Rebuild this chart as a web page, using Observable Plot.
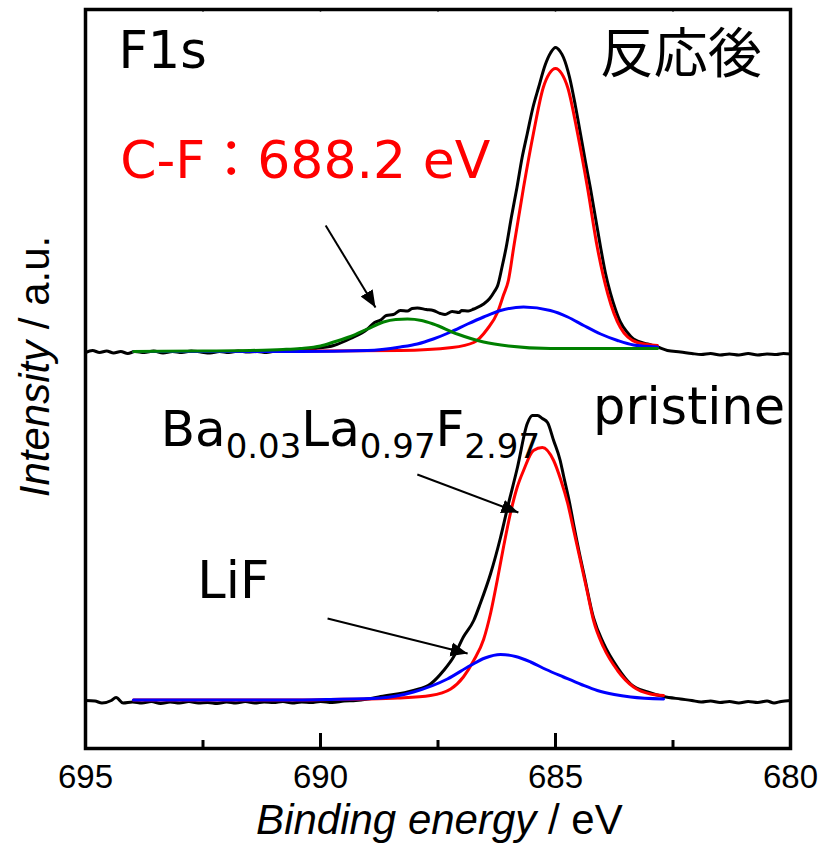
<!DOCTYPE html>
<html><head><meta charset="utf-8">
<script src="https://cdn.jsdelivr.net/npm/d3@7"></script>
<script src="https://cdn.jsdelivr.net/npm/@observablehq/plot@0.6"></script>
<style>body{margin:0;background:#fff}#chart{width:820px;height:852px}</style>
</head><body><div id="chart"></div>
<script>
// ---------- data (binding energy eV, intensity a.u.) ----------
const xTicks = [695, 690, 685, 680];
const xMinorTicks = [692.5, 687.5, 682.5];

// 反応後 (after reaction) spectrum, stacked above
const afterOffset = 6.96;
const afterMeasured = [[695.00,0.00],[694.85,0.04],[694.70,0.00],[694.55,0.03],[694.40,-0.01],[694.25,0.02],[694.10,-0.02],[693.95,0.02],[693.75,0.00],[693.55,0.03],[693.35,-0.01],[693.15,0.02],[692.95,0.00],[692.75,0.03],[692.55,0.01],[692.35,-0.01],[692.15,0.02],[691.95,0.00],[691.75,0.03],[691.55,0.01],[691.35,0.02],[691.15,0.00],[690.95,0.03],[690.75,0.02],[690.43,0.04],[690.10,0.08],[689.72,0.14],[689.36,0.28],[689.00,0.47],[688.85,0.60],[688.72,0.65],[688.60,0.74],[688.45,0.76],[688.30,0.84],[688.15,0.83],[688.05,0.88],[687.94,0.89],[687.75,0.86],[687.60,0.84],[687.45,0.78],[687.35,0.76],[687.20,0.82],[687.05,0.80],[687.00,0.84],[686.85,0.83],[686.74,0.87],[686.53,0.97],[686.40,1.08],[686.30,1.22],[686.23,1.34],[686.14,1.70],[686.05,2.10],[685.94,2.70],[685.82,3.30],[685.71,3.90],[685.60,4.38],[685.48,4.90],[685.36,5.30],[685.22,5.75],[685.10,6.00],[685.00,6.10],[684.90,6.02],[684.83,5.90],[684.70,5.50],[684.58,4.95],[684.47,4.38],[684.36,3.80],[684.26,3.30],[684.15,2.70],[684.04,2.10],[683.94,1.60],[683.83,1.18],[683.72,0.85],[683.62,0.61],[683.47,0.40],[683.34,0.27],[683.04,0.17],[682.83,0.11],[682.62,0.04],[682.34,0.01],[682.10,-0.02],[681.90,-0.04],[681.70,-0.02],[681.50,-0.05],[681.30,-0.03],[681.10,-0.05],[680.90,-0.02],[680.70,-0.05],[680.50,-0.03],[680.30,-0.04],[680.15,-0.02],[680.00,-0.03]];
const afterRed = [[693.98,0.02],[692.00,0.02],[690.00,0.03],[688.30,0.04],[687.20,0.10],[686.74,0.20],[686.45,0.47],[686.23,0.81],[686.11,1.14],[686.00,1.45],[685.89,2.10],[685.68,3.30],[685.47,4.38],[685.26,5.30],[685.13,5.58],[685.00,5.68],[684.87,5.58],[684.74,5.30],[684.53,4.38],[684.32,3.30],[684.11,2.10],[683.89,1.18],[683.62,0.50],[683.26,0.20],[682.83,0.14]];
const afterBlue = [[693.98,0.02],[692.00,0.02],[690.43,0.02],[689.00,0.04],[688.30,0.11],[687.94,0.17],[687.60,0.27],[687.23,0.41],[686.87,0.57],[686.53,0.71],[686.17,0.84],[685.68,0.91],[685.11,0.84],[684.74,0.71],[684.40,0.54],[684.04,0.37],[683.68,0.24],[683.34,0.15],[682.83,0.11]];
const afterGreen = [[693.98,0.02],[692.50,0.03],[691.50,0.04],[690.80,0.06],[690.43,0.08],[690.00,0.13],[689.72,0.21],[689.36,0.32],[689.00,0.47],[688.66,0.61],[688.40,0.66],[688.15,0.67],[687.85,0.64],[687.60,0.57],[687.09,0.37],[686.53,0.21],[686.00,0.13],[685.11,0.08],[684.00,0.08],[682.83,0.08]];

// pristine spectrum
const pristineOffset = 0;
const pristineMeasured = [[695.00,0.00],[694.80,-0.01],[694.65,-0.05],[694.45,0.00],[694.35,0.06],[694.20,-0.05],[694.00,-0.03],[693.80,-0.05],[693.60,-0.02],[693.40,-0.06],[693.20,-0.03],[693.00,-0.05],[692.80,-0.02],[692.60,-0.05],[692.40,-0.04],[692.20,-0.06],[692.00,-0.03],[691.80,-0.05],[691.60,-0.02],[691.40,-0.05],[691.20,-0.03],[691.00,-0.04],[690.80,-0.02],[690.60,-0.05],[690.40,-0.03],[690.20,-0.04],[690.00,-0.02],[689.75,-0.04],[689.50,-0.01],[689.25,0.00],[689.00,0.03],[688.72,0.08],[688.02,0.20],[687.66,0.33],[687.38,0.60],[687.17,0.87],[686.96,1.27],[686.74,1.60],[686.60,1.94],[686.38,2.54],[686.17,3.26],[686.02,3.86],[685.81,4.66],[685.60,5.54],[685.49,5.70],[685.38,5.70],[685.28,5.64],[685.17,5.56],[685.04,5.20],[684.90,4.80],[684.83,4.50],[684.70,3.95],[684.62,3.55],[684.47,2.85],[684.40,2.55],[684.19,1.65],[683.98,1.15],[683.68,0.66],[683.40,0.33],[683.04,0.17],[682.70,0.08],[682.34,0.03],[682.10,0.00],[681.90,-0.03],[681.70,-0.01],[681.50,-0.04],[681.30,-0.02],[681.10,-0.05],[680.90,-0.02],[680.70,-0.04],[680.50,-0.01],[680.35,-0.05],[680.20,-0.02],[680.00,0.00]];
const pristineRed = [[693.98,0.01],[692.00,0.01],[690.50,0.01],[689.79,0.02],[689.00,0.03],[688.36,0.05],[687.66,0.10],[687.23,0.23],[686.96,0.47],[686.74,0.80],[686.53,1.22],[686.38,1.75],[686.23,2.45],[686.10,3.10],[685.96,3.74],[685.82,4.25],[685.68,4.60],[685.47,5.00],[685.28,5.06],[685.04,4.80],[684.89,4.42],[684.74,3.94],[684.60,3.35],[684.47,2.80],[684.33,2.20],[684.19,1.60],[683.98,1.07],[683.68,0.60],[683.34,0.27],[682.98,0.13],[682.70,0.10]];
const pristineBlue = [[693.98,0.01],[692.00,0.01],[690.50,0.01],[689.79,0.02],[688.72,0.05],[688.02,0.17],[687.30,0.43],[686.81,0.70],[686.50,0.85],[686.17,0.92],[685.85,0.88],[685.53,0.77],[685.20,0.62],[684.83,0.47],[684.45,0.32],[684.11,0.20],[683.75,0.12],[683.40,0.07],[682.70,0.03]];

// ---------- annotations (data coordinates) ----------
const arrows = [
  {x1: 689.89, y1: 9.50, x2: 688.83, y2: 7.86},
  {x1: 687.94, y1: 4.52, x2: 685.79, y2: 3.76},
  {x1: 689.85, y1: 1.64, x2: 686.87, y2: 0.94}
];

const toRows = (arr, offset) => arr.map(([e, v]) => ({e, i: v + offset}));

const ann = "DejaVu Sans, Verdana, sans-serif";
const axisFont = "Liberation Sans, Arial, Helvetica, sans-serif";

const lineOpts = (stroke) => ({x: "e", y: "i", stroke, strokeWidth: 3, curve: "monotone-x", strokeLinejoin: "round"});

const chart = Plot.plot({
  width: 820, height: 852,
  marginLeft: 85, marginRight: 30, marginTop: 9, marginBottom: 104,
  x: {domain: [695, 680]},
  y: {domain: [-0.96, 13.82], axis: null},
  style: {background: "white", overflow: "visible"},
  marks: [
    Plot.line(toRows(afterMeasured, afterOffset), lineOpts("black")),
    Plot.line(toRows(afterRed, afterOffset), lineOpts("#ff0000")),
    Plot.line(toRows(afterBlue, afterOffset), lineOpts("#0000ff")),
    Plot.line(toRows(afterGreen, afterOffset), lineOpts("#008000")),
    Plot.line(toRows(pristineMeasured, pristineOffset), lineOpts("black")),
    Plot.line(toRows(pristineRed, pristineOffset), lineOpts("#ff0000")),
    Plot.line(toRows(pristineBlue, pristineOffset), lineOpts("#0000ff")),
    Plot.link(arrows, {x1: "x1", y1: "y1", x2: "x2", y2: "y2", stroke: "black", strokeWidth: 2}),
    // ticks (inward)
    Plot.ruleX(xTicks, {y1: -0.96, y2: -0.66, stroke: "black", strokeWidth: 3}),
    Plot.ruleX(xMinorTicks, {y1: -0.96, y2: -0.80, stroke: "black", strokeWidth: 3}),
    Plot.ruleX(xTicks.concat(xMinorTicks), {y1: 13.82, y2: 13.76, stroke: "#666", strokeWidth: 1.5}),
    Plot.frame({stroke: "black", strokeWidth: 3.5}),
    Plot.axisX(xTicks, {tickSize: 0, tickPadding: 16, fontSize: 33, fontFamily: axisFont, label: null, fill: "black"}),
    // axis titles
    Plot.text(["Binding energy / eV"], {x: 687.47, y: -2.66, fontSize: 42, fontFamily: axisFont, lineAnchor: "bottom", textAnchor: "middle", fill: "black"}),
    Plot.text(["Intensity / a.u."], {x: 695.787, y: 6.68, rotate: -90, fontSize: 42, fontFamily: axisFont, lineAnchor: "bottom", textAnchor: "middle", fill: "black"}),
    // annotations
    Plot.text(["F1s"], {x: 694.30, y: 12.66, fontSize: 51, fontFamily: ann, lineAnchor: "bottom", textAnchor: "start", fill: "black"}),
    Plot.text(["C-F：688.2 eV"], {x: 694.26, y: 10.46, fontSize: 52, fontFamily: ann, lineAnchor: "bottom", textAnchor: "start", fill: "#ff0000"}),
    Plot.text(["反応後"], {x: 684.06, y: 12.56, fontSize: 54, fontFamily: "Noto Sans CJK JP, sans-serif", lineAnchor: "bottom", textAnchor: "start", fill: "black"}),
    Plot.text(["pristine"], {x: 684.20, y: 5.54, fontSize: 51, fontFamily: ann, lineAnchor: "bottom", textAnchor: "start", fill: "black"}),
    Plot.text(["Ba0.03La0.97F2.97"], {x: 693.40, y: 5.10, fontSize: 50, fontFamily: ann, lineAnchor: "bottom", textAnchor: "start", fill: "black"}),
    Plot.text(["LiF"], {x: 692.62, y: 2.06, fontSize: 51, fontFamily: ann, lineAnchor: "bottom", textAnchor: "start", fill: "black"})
  ]
});

document.getElementById("chart").appendChild(chart);

// ---------- post-processing: rich text & filled arrowheads ----------
const svg = d3.select(chart);
function rich(plain, build) {
  svg.selectAll("text").filter(function () { return this.textContent === plain; }).each(function () {
    const t = d3.select(this);
    t.text(null);
    build(t);
  });
}
rich("Binding energy / eV", t => {
  t.append("tspan").attr("font-style", "italic").text("Binding energy");
  t.append("tspan").text(" / eV");
});
rich("Intensity / a.u.", t => {
  t.append("tspan").attr("font-style", "italic").text("Intensity");
  t.append("tspan").text(" / a.u.");
});
rich("Ba0.03La0.97F2.97", t => {
  const parts = "Ba0.03La0.97F2.97".match(/[A-Z][a-z]?|[\d.]+/g);
  let down = false;
  for (const p of parts) {
    const sub = /^[\d.]/.test(p);
    const ts = t.append("tspan").text(p);
    if (sub) { ts.attr("font-size", 34).attr("dy", down ? 0 : 12); down = true; }
    else { ts.attr("dy", down ? -12 : 0); down = false; }
  }
});
rich("C-F：688.2 eV", t => {
  t.append("tspan").text("C-F");
  t.append("tspan").attr("font-family", "Noto Sans CJK JP, sans-serif").text("：");
  t.append("tspan").text("688.2 eV");
});
// filled arrowheads via an SVG marker attached to the link paths
const NS = "http://www.w3.org/2000/svg";
let defs = chart.querySelector("defs");
if (!defs) { defs = document.createElementNS(NS, "defs"); chart.insertBefore(defs, chart.firstChild); }
const mk = document.createElementNS(NS, "marker");
mk.setAttribute("id", "filled-head");
mk.setAttribute("viewBox", "-17 -8 18 16");
mk.setAttribute("refX", "0"); mk.setAttribute("refY", "0");
mk.setAttribute("markerWidth", "18"); mk.setAttribute("markerHeight", "16");
mk.setAttribute("markerUnits", "userSpaceOnUse");
mk.setAttribute("orient", "auto");
const hp = document.createElementNS(NS, "path");
hp.setAttribute("d", "M-17,-7L0,0L-17,7Z");
hp.setAttribute("fill", "black");
mk.appendChild(hp);
defs.appendChild(mk);
svg.selectAll('g[aria-label="link"] path').attr("marker-end", "url(#filled-head)");
</script>
</body></html>
